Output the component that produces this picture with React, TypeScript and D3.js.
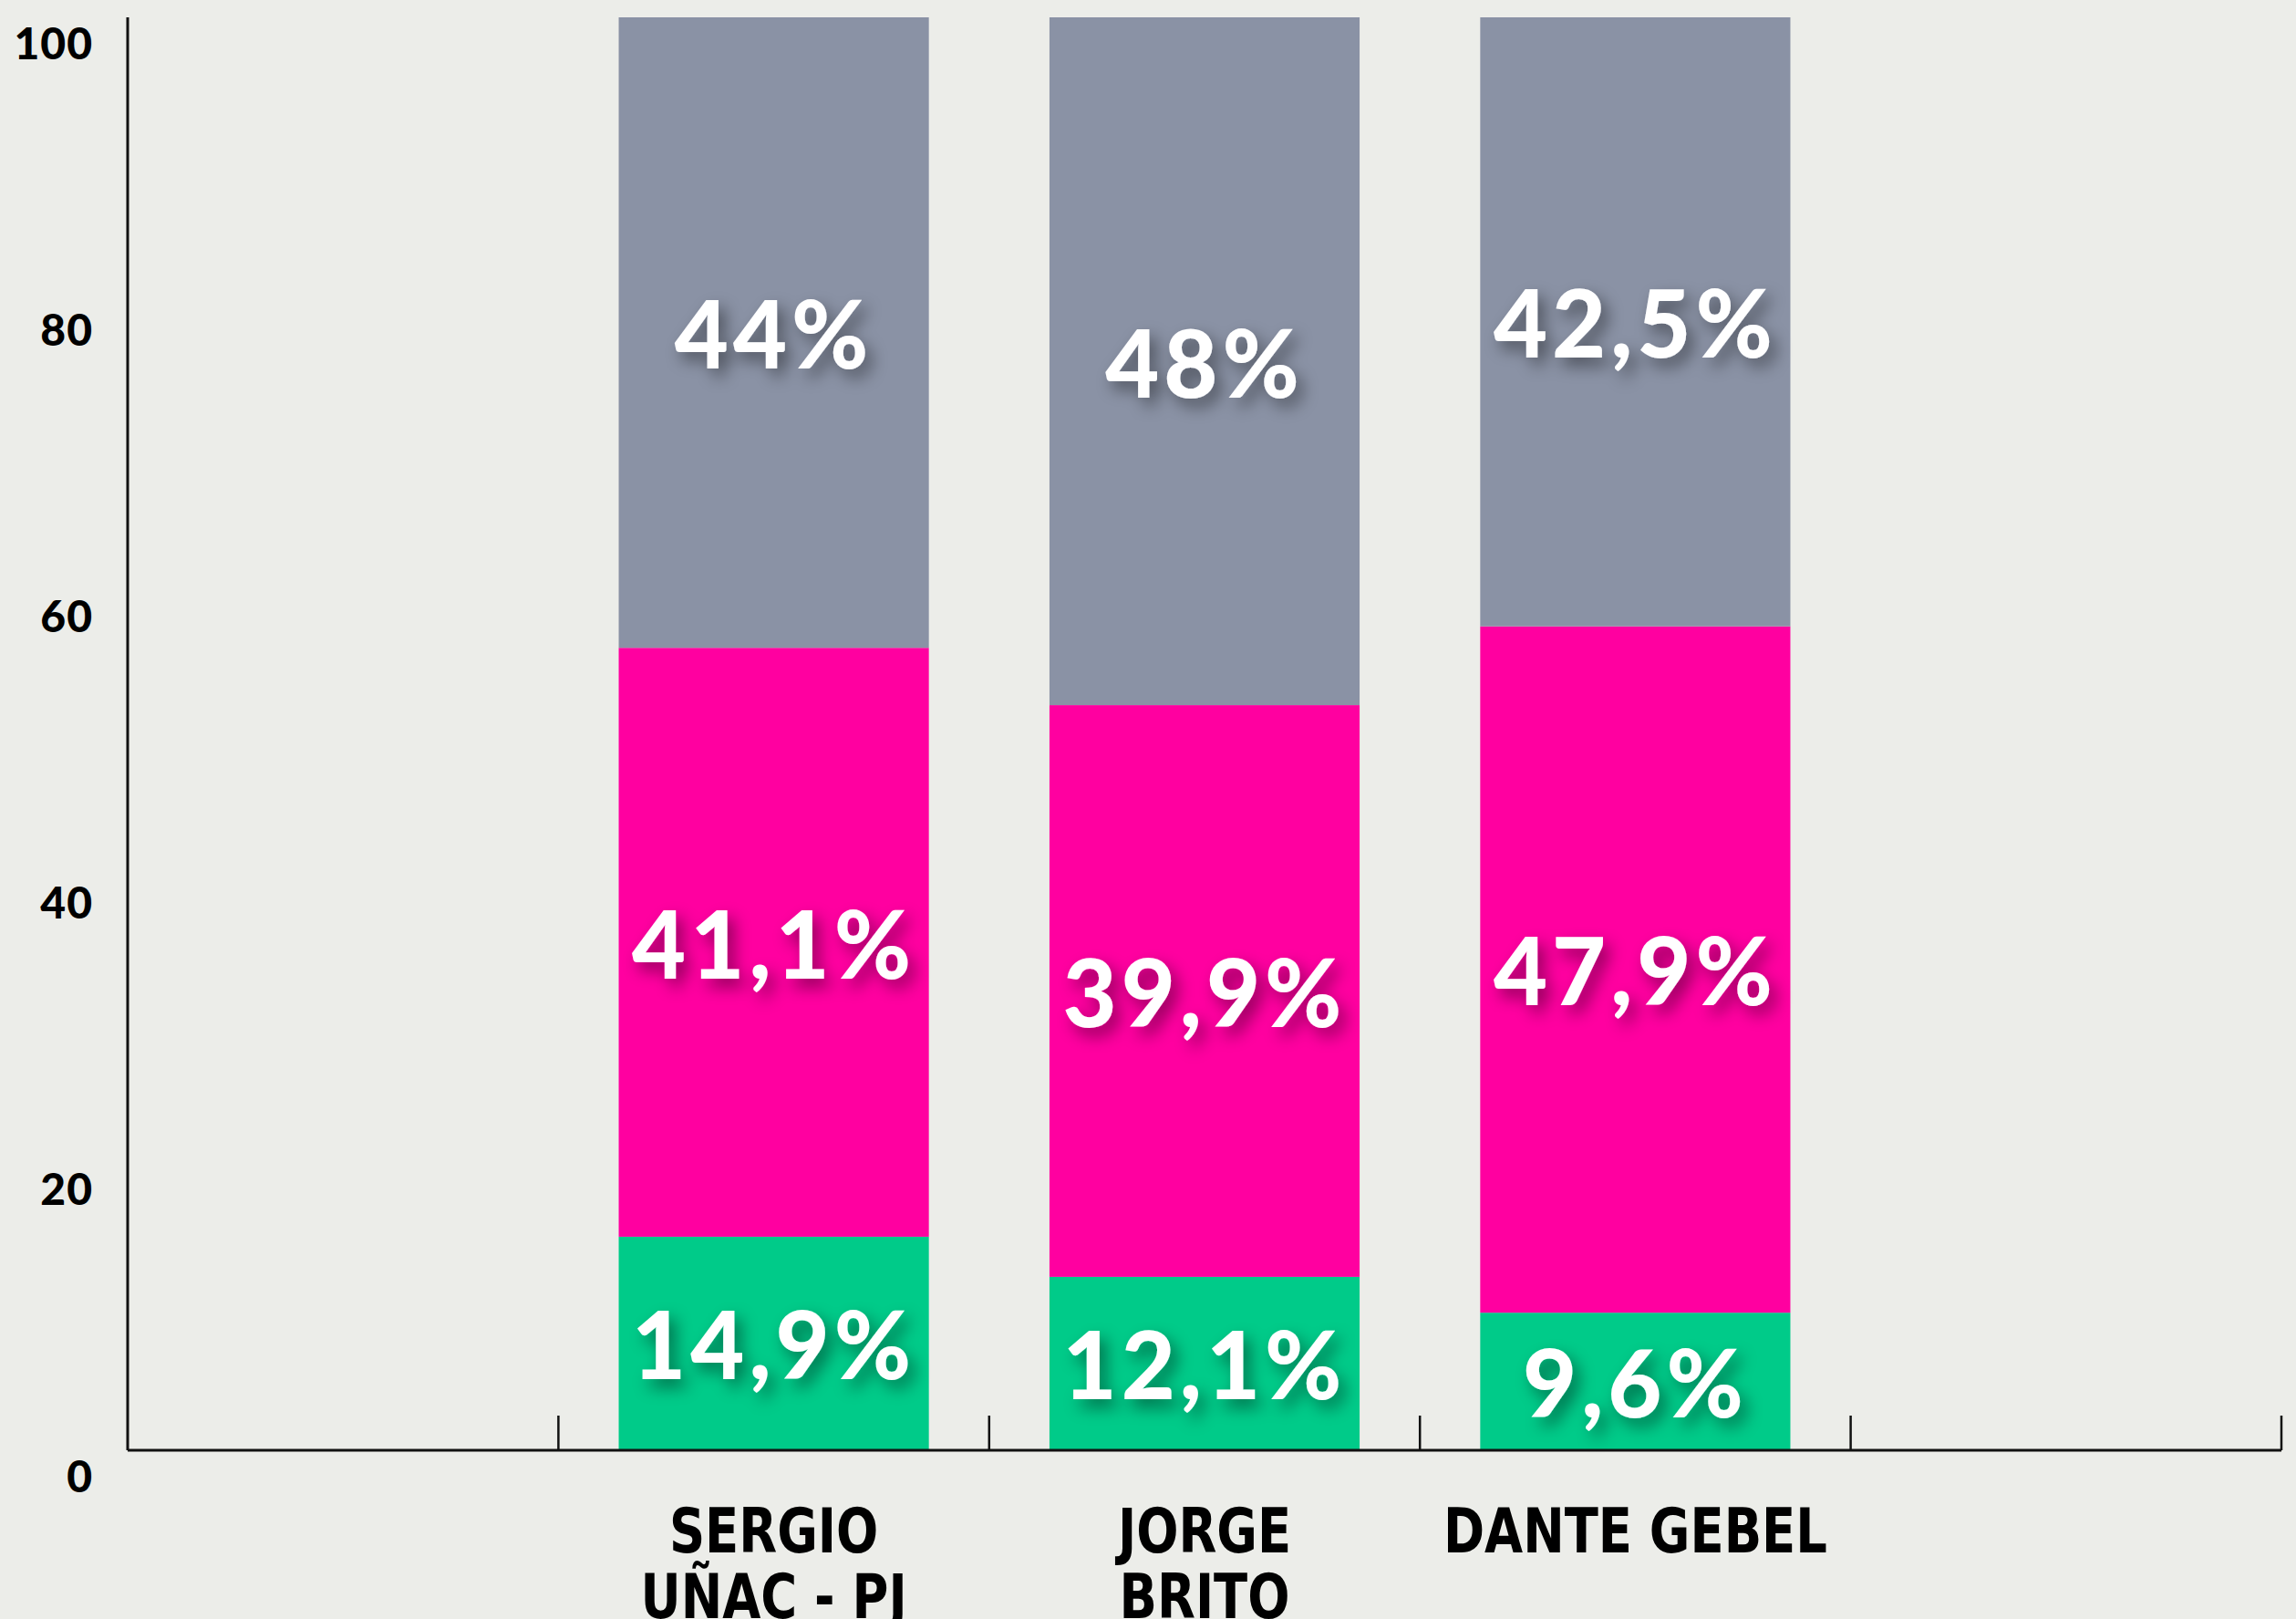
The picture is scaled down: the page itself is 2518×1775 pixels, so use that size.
import React, { useEffect } from "react";
import * as d3 from "d3";

const categories = ["_left", "SERGIO UÑAC - PJ", "JORGE BRITO", "DANTE GEBEL", "_right"];
const categoryLines: string[][] = [[], ["SERGIO", "UÑAC - PJ"], ["JORGE", "BRITO"], ["DANTE GEBEL"], []];
const greenValues = [14.9, 12.1, 9.6];
const pinkValues = [41.1, 39.9, 47.9];
const grayValues = [44, 48, 42.5];
const barCategories = ["SERGIO UÑAC - PJ", "JORGE BRITO", "DANTE GEBEL"];
const yTicks = [0, 20, 40, 60, 80, 100];

const W = 2518;
const H = 1775;
const margin = { left: 140, right: 16, top: 19, bottom: 185 };

const COLORS: Record<string, string> = { green: "#00CB89", pink: "#FF00A0", gray: "#8A92A5" };

const fmt = d3.formatLocale({ decimal: ",", thousands: ".", grouping: [3], currency: ["", "€"] }).format("~g");

export default function App() {
  useEffect(() => {
    document.body.style.margin = "0";
    document.body.style.background = "#ECEDE9";
  }, []);

  const x = d3
    .scaleBand<string>()
    .domain(categories)
    .range([margin.left, W - margin.right])
    .paddingInner(0.28)
    .paddingOuter(0.14);
  const step = x.step();
  const y = d3.scaleLinear().domain([0, 100]).range([H - margin.bottom, margin.top]);

  const rows = barCategories.map((c, i) => ({ cat: c, green: greenValues[i], pink: pinkValues[i], gray: grayValues[i] }));
  const keys = ["green", "pink", "gray"];
  const series = d3.stack<any>().keys(keys)(rows);

  const x0 = margin.left;
  const x1 = W - margin.right;
  const y0 = y(0);
  const tickXs = d3.range(1, categories.length + 1).map((i) => x0 + step * i);

  const labelFont = "Lato, 'Open Sans', sans-serif";

  return (
    <svg width={W} height={H} style={{ display: "block", background: "#ECEDE9" }}>
      <defs>
        <filter id="shadow" x="-30%" y="-50%" width="160%" height="200%">
          <feDropShadow dx="7" dy="9" stdDeviation="9" floodColor="#000" floodOpacity="0.45" />
        </filter>
      </defs>
      <rect x={0} y={0} width={W} height={H} fill="#ECEDE9" />

      {series.map((s) =>
        s.map((d: any, i: number) => (
          <rect
            key={s.key + i}
            x={x(d.data.cat)}
            y={y(d[1])}
            width={x.bandwidth()}
            height={y(d[0]) - y(d[1])}
            fill={COLORS[s.key]}
          />
        ))
      )}

      {/* axes */}
      <line x1={x0} x2={x0} y1={y(100)} y2={y0} stroke="#111" strokeWidth={3} />
      <line x1={x0} x2={x1} y1={y0} y2={y0} stroke="#111" strokeWidth={3} />
      {tickXs.map((tx, i) => (
        <line key={"t" + i} x1={tx} x2={tx} y1={y0} y2={y0 - 38} stroke="#111" strokeWidth={2.5} />
      ))}

      {yTicks.map((t) => (
        <text
          key={"y" + t}
          x={102}
          y={y(t) + 27}
          textAnchor="end"
          dominantBaseline="central"
          fontFamily={labelFont}
          fontWeight={900}
          fontSize={48}
          letterSpacing={1}
          fill="#000"
        >
          {t}
        </text>
      ))}

      {categories.map((c, i) =>
        categoryLines[i].map((line, j) => {
          const cx = (x(c) as number) + x.bandwidth() / 2;
          return (
            <text
              key={c + j}
              transform={`translate(${cx},${1702 + j * 72}) scale(0.8,1)`}
              textAnchor="middle"
              fontFamily="'DejaVu Sans', sans-serif"
              fontWeight={700}
              fontSize={68}
              fill="#000"
            >
              {line}
            </text>
          );
        })
      )}

      {series.map((s) =>
        s.map((d: any, i: number) => (
          <text
            key={"l" + s.key + i}
            x={(x(d.data.cat) as number) + x.bandwidth() / 2}
            y={(y(d[0]) + y(d[1])) / 2}
            textAnchor="middle"
            dominantBaseline="central"
            fontFamily={labelFont}
            fontWeight={900}
            fontSize={102}
            letterSpacing={5}
            fill="#fff"
            filter="url(#shadow)"
          >
            {fmt(d.data[s.key]) + "%"}
          </text>
        ))
      )}
    </svg>
  );
}
